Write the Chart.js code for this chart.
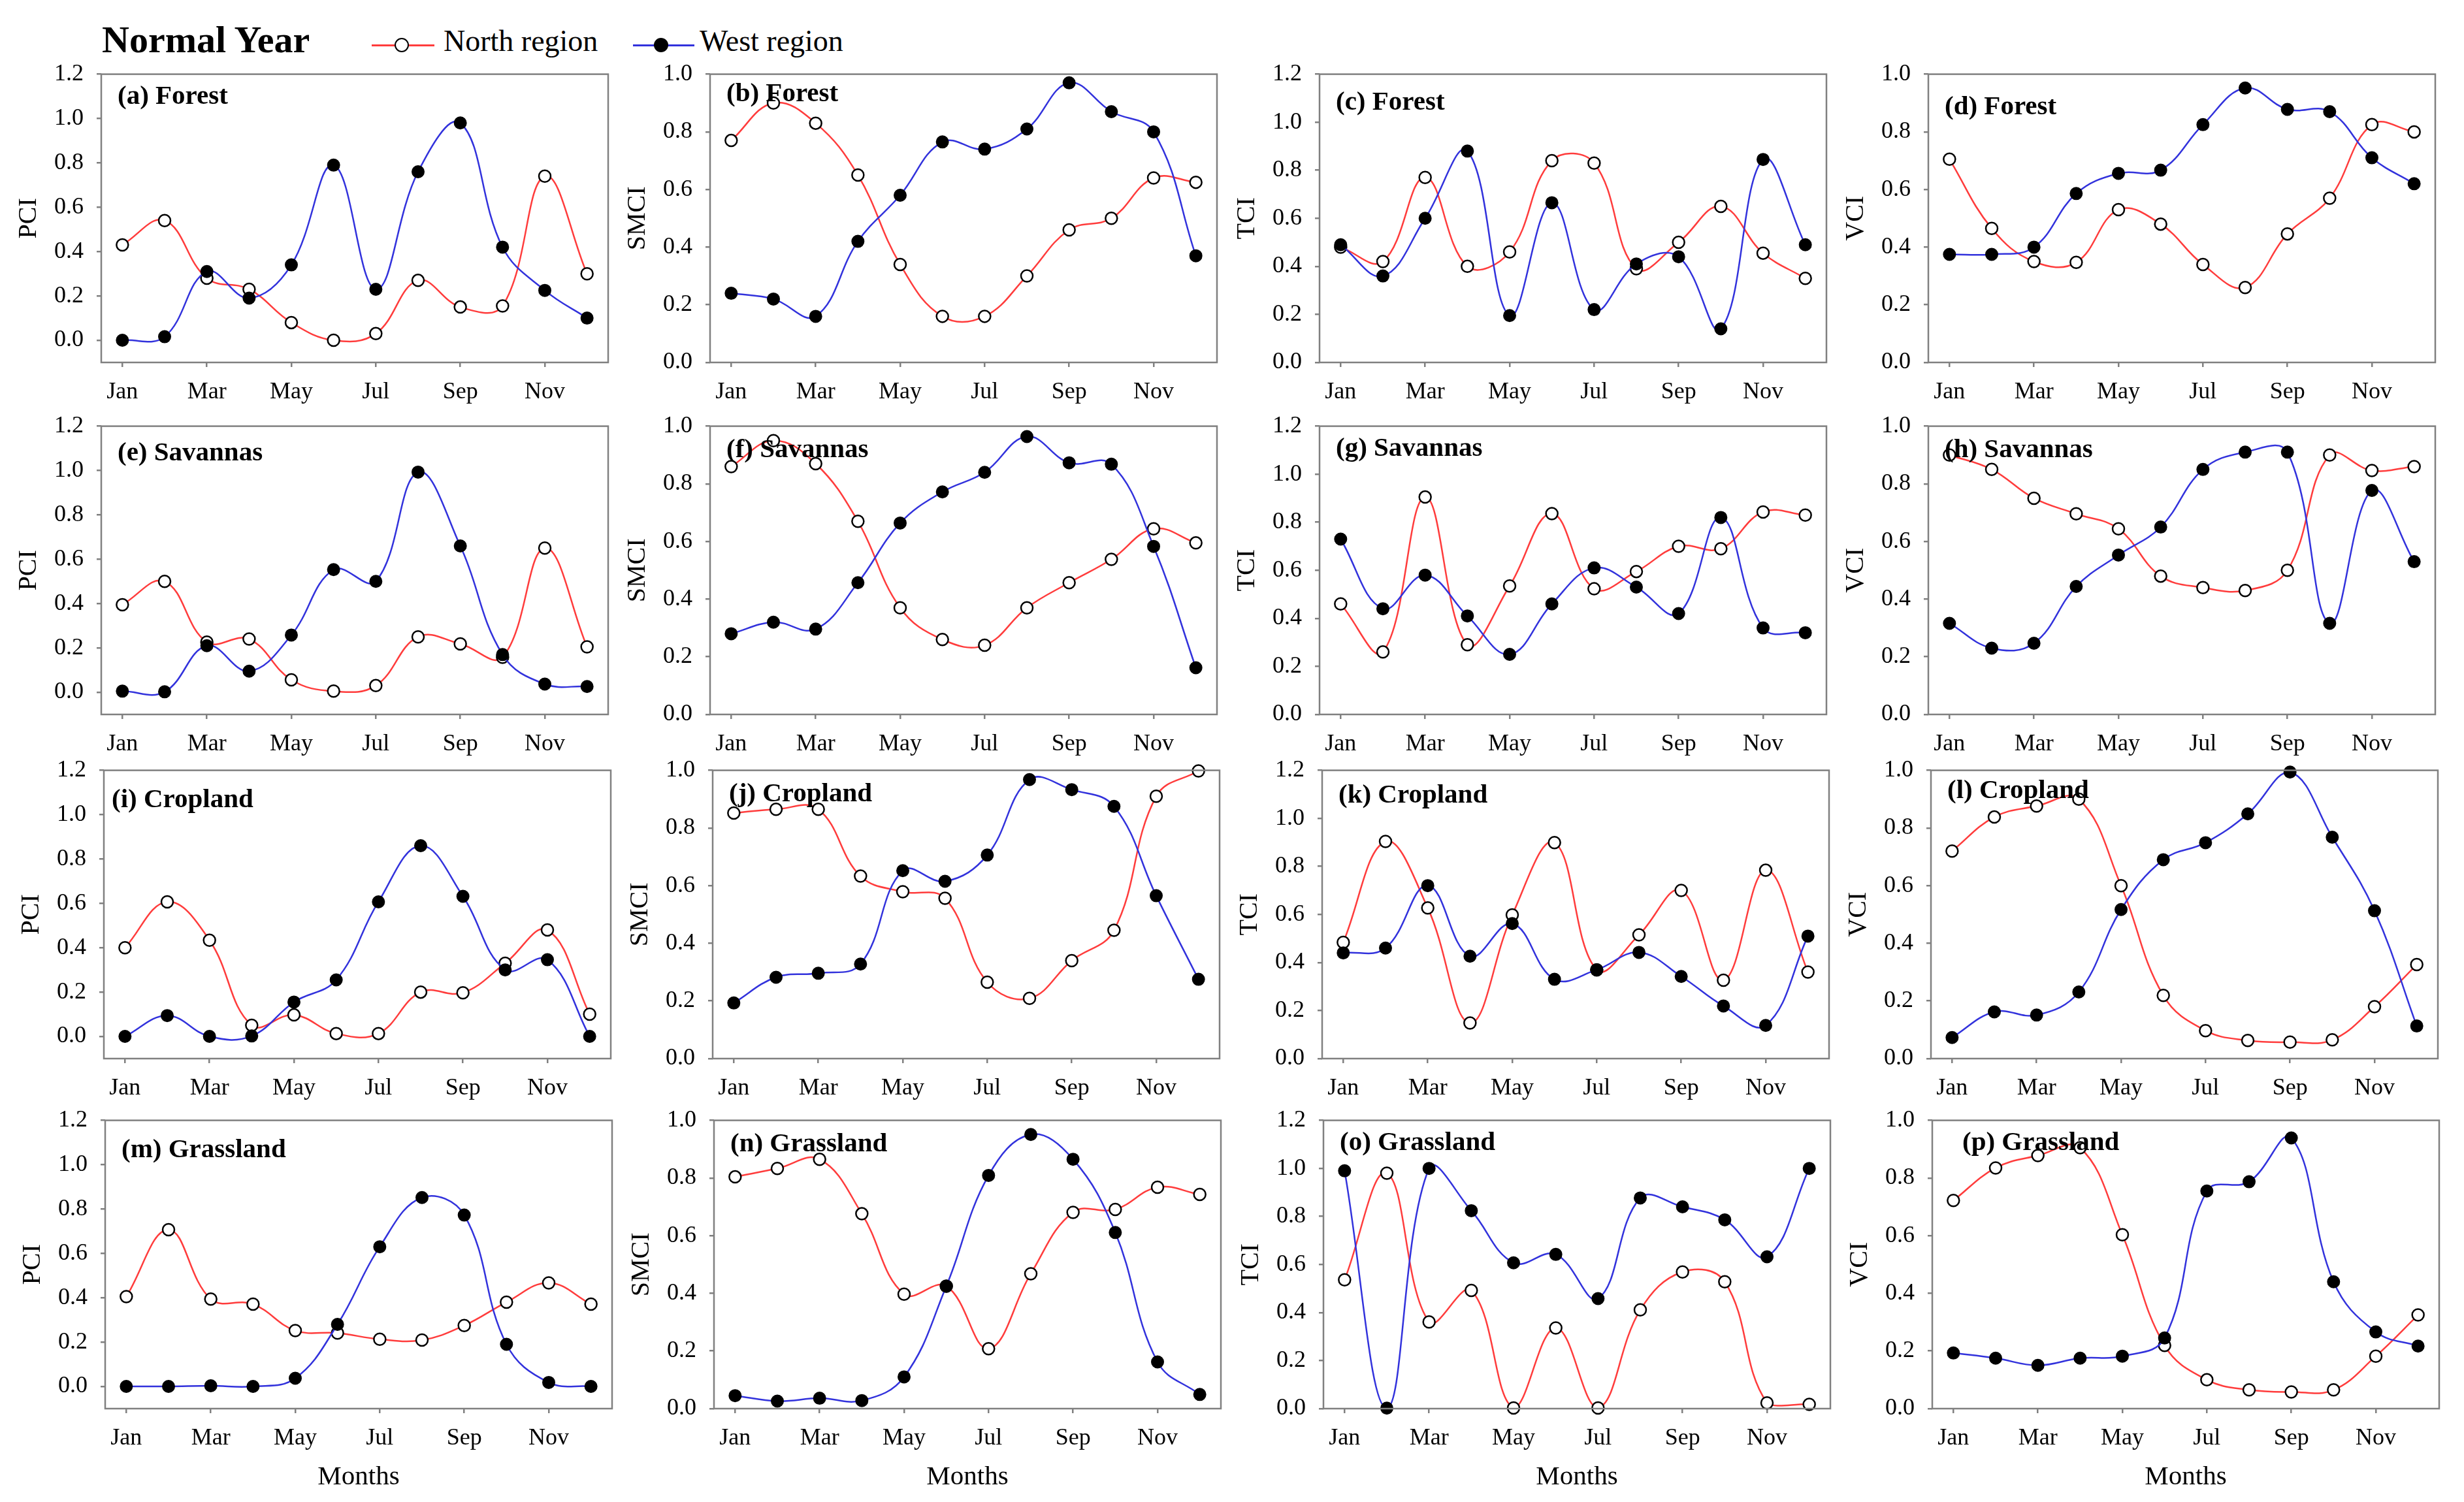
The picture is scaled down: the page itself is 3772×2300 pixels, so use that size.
<!DOCTYPE html>
<html>
<head>
<meta charset="utf-8">
<script src="https://cdn.jsdelivr.net/npm/chart.js"></script>
<style>
  body { margin: 0; background: #fff; width: 3772px; height: 2300px; position: relative; overflow: hidden; font-family: "Liberation Serif", serif; }
  canvas { position: absolute; }
  .txt { position: absolute; white-space: nowrap; line-height: 1; color: #000; }
  .ln { position: absolute; height: 3px; }
  .dot { position: absolute; width: 18px; height: 18px; border-radius: 50%; border: 2.5px solid #000; }
</style>
</head>
<body>
<div class="txt" style="left:156px;top:32px;font-size:58px;font-weight:bold;">Normal Year</div>
<div class="ln" style="left:569px;top:68px;width:96px;background:rgb(255,60,60);"></div>
<div class="dot" style="left:604px;top:58px;background:#fff;"></div>
<div class="txt" style="left:679px;top:40px;font-size:46px;">North region</div>
<div class="ln" style="left:969px;top:68px;width:94px;background:rgb(50,50,220);"></div>
<div class="dot" style="left:1001px;top:58px;background:#000;"></div>
<div class="txt" style="left:1071px;top:40px;font-size:46px;">West region</div>

<script>
const months = ['Jan', 'Feb', 'Mar', 'Apr', 'May', 'Jun', 'Jul', 'Aug', 'Sep', 'Oct', 'Nov', 'Dec'];

// Forest
const forestPciNorth  = [0.43, 0.54, 0.28, 0.23, 0.08, 0.00, 0.03, 0.27, 0.15, 0.155, 0.74, 0.30];
const forestPciWest   = [0.00, 0.016, 0.31, 0.19, 0.34, 0.79, 0.23, 0.76, 0.98, 0.42, 0.225, 0.10];
const forestSmciNorth = [0.77, 0.90, 0.83, 0.65, 0.34, 0.16, 0.16, 0.30, 0.46, 0.50, 0.64, 0.625];
const forestSmciWest  = [0.24, 0.22, 0.16, 0.42, 0.58, 0.765, 0.74, 0.81, 0.97, 0.87, 0.80, 0.37];
const forestTciNorth  = [0.48, 0.42, 0.77, 0.40, 0.46, 0.84, 0.83, 0.39, 0.50, 0.65, 0.455, 0.35];
const forestTciWest   = [0.49, 0.36, 0.60, 0.88, 0.195, 0.665, 0.22, 0.41, 0.44, 0.14, 0.845, 0.49];
const forestVciNorth  = [0.705, 0.465, 0.35, 0.347, 0.53, 0.48, 0.34, 0.26, 0.446, 0.57, 0.825, 0.80];
const forestVciWest   = [0.375, 0.375, 0.40, 0.586, 0.656, 0.667, 0.825, 0.952, 0.878, 0.87, 0.71, 0.62];

// Savannas
const savPciNorth  = [0.395, 0.50, 0.226, 0.24, 0.056, 0.005, 0.03, 0.25, 0.218, 0.158, 0.65, 0.205];
const savPciWest   = [0.005, 0.002, 0.21, 0.095, 0.258, 0.553, 0.50, 0.993, 0.66, 0.17, 0.037, 0.026];
const savSmciNorth = [0.86, 0.95, 0.87, 0.67, 0.37, 0.26, 0.24, 0.37, 0.457, 0.538, 0.644, 0.595];
const savSmciWest  = [0.28, 0.32, 0.296, 0.457, 0.664, 0.772, 0.84, 0.964, 0.873, 0.868, 0.583, 0.162];
const savTciNorth  = [0.46, 0.26, 0.905, 0.29, 0.535, 0.836, 0.523, 0.595, 0.70, 0.69, 0.843, 0.83];
const savTciWest   = [0.73, 0.44, 0.58, 0.41, 0.25, 0.46, 0.61, 0.53, 0.42, 0.82, 0.36, 0.34];
const savVciNorth  = [0.90, 0.85, 0.75, 0.696, 0.644, 0.48, 0.44, 0.43, 0.50, 0.90, 0.846, 0.86];
const savVciWest   = [0.316, 0.23, 0.247, 0.444, 0.553, 0.65, 0.85, 0.91, 0.91, 0.316, 0.777, 0.53];

// Cropland
const cropPciNorth  = [0.40, 0.607, 0.434, 0.05, 0.097, 0.013, 0.013, 0.20, 0.197, 0.33, 0.48, 0.10];
const cropPciWest   = [0.00, 0.094, 0.00, 0.002, 0.155, 0.255, 0.607, 0.86, 0.632, 0.30, 0.346, 0.00];
const cropSmciNorth = [0.852, 0.865, 0.865, 0.633, 0.579, 0.556, 0.265, 0.209, 0.34, 0.445, 0.91, 0.998];
const cropSmciWest  = [0.193, 0.282, 0.296, 0.328, 0.652, 0.615, 0.706, 0.968, 0.933, 0.875, 0.565, 0.275];
const cropTciNorth  = [0.484, 0.904, 0.627, 0.148, 0.598, 0.899, 0.369, 0.515, 0.70, 0.326, 0.784, 0.36];
const cropTciWest   = [0.44, 0.46, 0.72, 0.426, 0.562, 0.33, 0.37, 0.442, 0.342, 0.219, 0.138, 0.51];
const cropVciNorth  = [0.72, 0.838, 0.876, 0.90, 0.60, 0.219, 0.097, 0.063, 0.057, 0.065, 0.18, 0.326];
const cropVciWest   = [0.073, 0.162, 0.151, 0.231, 0.517, 0.69, 0.749, 0.849, 0.994, 0.768, 0.513, 0.113];

// Grassland
const grassPciNorth  = [0.405, 0.707, 0.394, 0.371, 0.252, 0.241, 0.213, 0.209, 0.275, 0.38, 0.467, 0.371];
const grassPciWest   = [0.00, 0.00, 0.003, 0.00, 0.037, 0.28, 0.63, 0.852, 0.773, 0.19, 0.018, 0.00];
const grassSmciNorth = [0.804, 0.833, 0.865, 0.676, 0.397, 0.425, 0.208, 0.468, 0.681, 0.691, 0.768, 0.743];
const grassSmciWest  = [0.045, 0.026, 0.036, 0.028, 0.11, 0.425, 0.809, 0.951, 0.865, 0.611, 0.162, 0.049];
const grassTciNorth  = [0.536, 0.98, 0.361, 0.492, 0.003, 0.336, 0.003, 0.411, 0.569, 0.528, 0.024, 0.018];
const grassTciWest   = [0.99, 0.002, 1.0, 0.824, 0.607, 0.642, 0.458, 0.877, 0.84, 0.786, 0.632, 1.0];
const grassVciNorth  = [0.722, 0.835, 0.878, 0.905, 0.603, 0.219, 0.10, 0.065, 0.058, 0.065, 0.182, 0.325];
const grassVciWest   = [0.193, 0.175, 0.15, 0.175, 0.182, 0.245, 0.755, 0.787, 0.939, 0.44, 0.266, 0.217];

const pciTicks = [0, 0.2, 0.4, 0.6, 0.8, 1.0, 1.2];
const tciTicks = [0, 0.2, 0.4, 0.6, 0.8, 1.0, 1.2];
const unitTicks = [0, 0.2, 0.4, 0.6, 0.8, 1.0];

const FONT = '"Liberation Serif", "Times New Roman", serif';
const RED = 'rgb(255,60,60)';
const BLUE = 'rgb(50,50,220)';
const AXIS = '#808080';

// layout of plot areas
const plotLefts = [155, 1087, 2020, 2952];
const rowShift = [0, 0, 4, 6];
const plotTops = [114, 653, 1180, 1716];
const plotW = 776, plotH = 441;
const yAxisW = 150, padRight = 20;
// panel label nudges (y from plot top, x from plot left)
const labelDy = [[14, 10, 23, 30], [21, 16, 14, 16], [25, 16, 18, 11], [25, 16, 14, 14]];
const labelDx = [[25, 25, 25, 25], [25, 25, 25, 25], [12, 25, 25, 25], [25, 25, 25, 46]];

const framePlugin = {
  id: 'frame',
  afterDraw(chart, args, opts) {
    const a = chart.chartArea, ctx = chart.ctx;
    ctx.save();
    ctx.strokeStyle = AXIS;
    ctx.lineWidth = 2.5;
    ctx.strokeRect(a.left, a.top, a.width, a.height);
    ctx.fillStyle = '#000';
    ctx.font = 'bold 41px ' + FONT;
    ctx.textBaseline = 'top';
    ctx.fillText(opts.text, a.left + opts.dx, a.top + opts.dy);
    ctx.restore();
  }
};

function panel(row, col, label, yTitle, north, west, yMin, yMax, yTicks) {
  const bottomRow = row === 3;
  const xH = bottomRow ? 150 : 80;
  const cv = document.createElement('canvas');
  const w = yAxisW + plotW + padRight;
  cv.width = w; cv.height = 60 + plotH + xH;
  cv.style.left = (plotLefts[col] + rowShift[row] - yAxisW) + 'px';
  document.body.appendChild(cv);

  const chart = new Chart(cv.getContext('2d'), {
    type: 'line',
    data: {
      labels: months,
      datasets: [{
        label: 'West region',
        data: west,
        borderColor: BLUE,
        borderWidth: 2.5,
        pointBackgroundColor: '#000',
        pointBorderColor: '#000',
        pointRadius: 9,
        pointBorderWidth: 2,
        tension: 0.4,
        clip: 14
      }, {
        label: 'North region',
        data: north,
        borderColor: RED,
        borderWidth: 2.5,
        pointBackgroundColor: '#fff',
        pointBorderColor: '#000',
        pointRadius: 9,
        pointBorderWidth: 2.5,
        tension: 0.4,
        clip: 14
      }]
    },
    options: {
      responsive: false,
      maintainAspectRatio: false,
      animation: false,
      devicePixelRatio: 1,
      layout: { padding: { top: 0, right: padRight, left: 0, bottom: 0 } },
      scales: {
        x: {
          offset: true,
          border: { display: false },
          grid: {
            drawOnChartArea: false, tickLength: 7, lineWidth: 2.5,
            color: c => (c.index % 2 === 0 ? AXIS : 'rgba(0,0,0,0)')
          },
          ticks: {
            autoSkip: false, maxRotation: 0, padding: 17, color: '#000',
            font: { family: FONT, size: 36 },
            callback: (v, i) => (i % 2 === 0 ? months[i] : '')
          },
          title: {
            display: bottomRow, text: 'Months', color: '#000',
            font: { family: FONT, size: 41 }, padding: { top: 0, bottom: 20 }
          },
          afterFit: s => { s.height = xH; }
        },
        y: {
          min: yMin, max: yMax,
          afterBuildTicks: s => { s.ticks = yTicks.map(v => ({ value: v })); },
          border: { display: false },
          grid: { drawOnChartArea: false, tickLength: 7, lineWidth: 2.5, color: AXIS },
          ticks: {
            padding: 20, color: '#000', font: { family: FONT, size: 36 },
            callback: v => Number(v).toFixed(1)
          },
          title: {
            display: true, text: yTitle, color: '#000',
            font: { family: FONT, size: 40 }, padding: { top: 15, bottom: 0 }
          },
          afterFit: s => { s.width = yAxisW; }
        }
      },
      plugins: {
        legend: { display: false },
        tooltip: { enabled: false },
        frame: { text: label, dx: labelDx[row][col], dy: labelDy[row][col] }
      }
    },
    plugins: [framePlugin]
  });

  // the y scale reserves room above the plot for its top label; line the plot box up
  const t = chart.chartArea.top;
  chart.resize(w, Math.round(t + plotH + xH));
  cv.style.top = Math.round(plotTops[row] - chart.chartArea.top) + 'px';
}

panel(0, 0, '(a) Forest', 'PCI', forestPciNorth, forestPciWest, -0.1, 1.2, pciTicks);
panel(0, 1, '(b) Forest', 'SMCI', forestSmciNorth, forestSmciWest, 0, 1.0, unitTicks);
panel(0, 2, '(c) Forest', 'TCI', forestTciNorth, forestTciWest, 0, 1.2, tciTicks);
panel(0, 3, '(d) Forest', 'VCI', forestVciNorth, forestVciWest, 0, 1.0, unitTicks);

panel(1, 0, '(e) Savannas', 'PCI', savPciNorth, savPciWest, -0.1, 1.2, pciTicks);
panel(1, 1, '(f) Savannas', 'SMCI', savSmciNorth, savSmciWest, 0, 1.0, unitTicks);
panel(1, 2, '(g) Savannas', 'TCI', savTciNorth, savTciWest, 0, 1.2, tciTicks);
panel(1, 3, '(h) Savannas', 'VCI', savVciNorth, savVciWest, 0, 1.0, unitTicks);

panel(2, 0, '(i) Cropland', 'PCI', cropPciNorth, cropPciWest, -0.1, 1.2, pciTicks);
panel(2, 1, '(j) Cropland', 'SMCI', cropSmciNorth, cropSmciWest, 0, 1.0, unitTicks);
panel(2, 2, '(k) Cropland', 'TCI', cropTciNorth, cropTciWest, 0, 1.2, tciTicks);
panel(2, 3, '(l) Cropland', 'VCI', cropVciNorth, cropVciWest, 0, 1.0, unitTicks);

panel(3, 0, '(m) Grassland', 'PCI', grassPciNorth, grassPciWest, -0.1, 1.2, pciTicks);
panel(3, 1, '(n) Grassland', 'SMCI', grassSmciNorth, grassSmciWest, 0, 1.0, unitTicks);
panel(3, 2, '(o) Grassland', 'TCI', grassTciNorth, grassTciWest, 0, 1.2, tciTicks);
panel(3, 3, '(p) Grassland', 'VCI', grassVciNorth, grassVciWest, 0, 1.0, unitTicks);
</script>
</body>
</html>
